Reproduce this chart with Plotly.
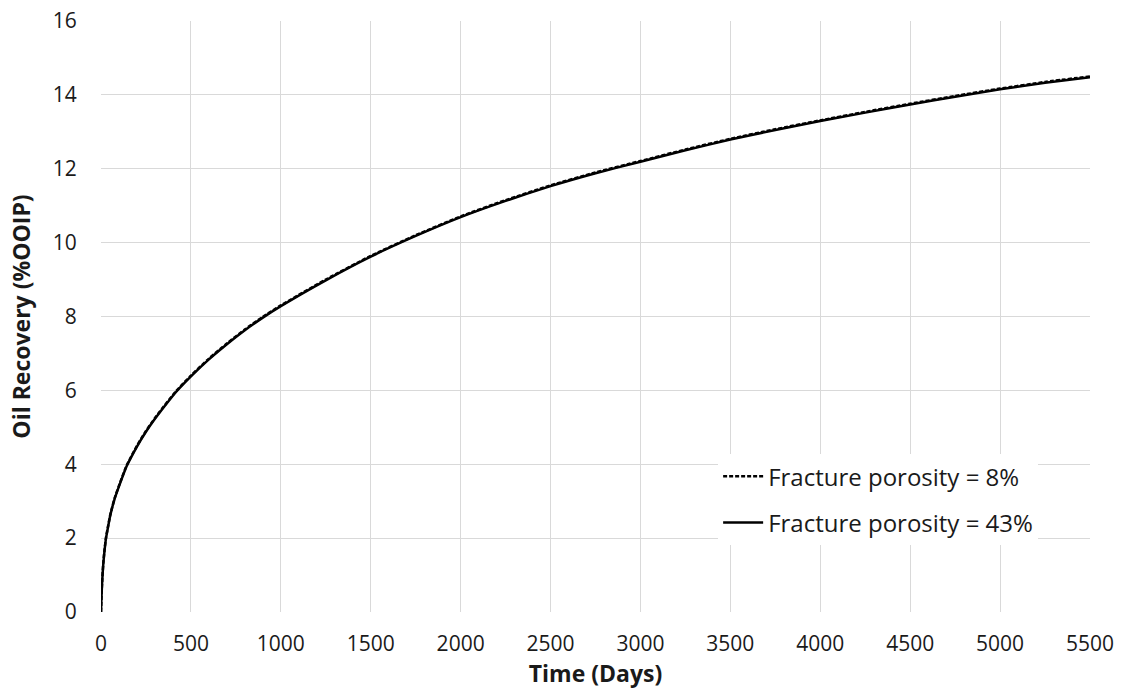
import plotly.graph_objects as go

days = [0, 3, 7, 13, 20, 28, 40, 50, 75, 100, 143, 200, 250, 300, 350, 416, 500, 600, 700,
        800, 900, 1000, 1250, 1500, 1750, 2000, 2250, 2500, 2750, 3000, 3250, 3500, 3750,
        4000, 4250, 4500, 4750, 5000, 5250, 5500]
rec_43 = [0, 0.45, 0.87, 1.32, 1.68, 2.0, 2.32, 2.58, 3.05, 3.4, 3.95, 4.48, 4.88, 5.23, 5.55,
          5.95, 6.38, 6.84, 7.25, 7.63, 7.97, 8.28, 8.98, 9.62, 10.18, 10.69, 11.13, 11.53,
          11.88, 12.19, 12.50, 12.79, 13.05, 13.29, 13.52, 13.74, 13.95, 14.15, 14.33, 14.48]
rec_8 = [0, 0.46, 0.89, 1.34, 1.70, 2.02, 2.34, 2.60, 3.07, 3.42, 3.97, 4.50, 4.90, 5.25, 5.57,
         5.97, 6.40, 6.86, 7.27, 7.65, 7.99, 8.30, 9.00, 9.64, 10.20, 10.71, 11.15, 11.55,
         11.90, 12.21, 12.52, 12.81, 13.07, 13.31, 13.54, 13.76, 13.97, 14.17, 14.35, 14.50]

x_ticks = list(range(0, 5501, 500))
y_ticks = list(range(0, 17, 2))

fig = go.Figure()
fig.add_trace(go.Scatter(x=days, y=rec_43, mode="lines", name="Fracture porosity = 43%",
                         legendgroup="b", legendrank=2,
                         line=dict(color="black", width=2.5, shape="spline", smoothing=0.5)))
fig.add_trace(go.Scatter(x=days, y=rec_8, mode="lines", name="Fracture porosity = 8%",
                         legendgroup="a", legendrank=1,
                         line=dict(color="black", width=2.5, dash="4px,2px", shape="spline",
                                   smoothing=0.5)))

font_family = "Open Sans, Liberation Sans, sans-serif"
fig.update_layout(
    width=1122, height=695,
    margin=dict(l=101, r=32, t=21, b=83),
    paper_bgcolor="white", plot_bgcolor="white",
    font=dict(family=font_family, size=21, color="#1a1a1a"),
    showlegend=True,
    legend=dict(x=0.624, y=0.267, xanchor="left", yanchor="top",
                bgcolor="white", font=dict(size=24), tracegroupgap=12,
                traceorder="grouped", itemwidth=40),
    xaxis=dict(range=[0, 5500], tickvals=x_ticks, showgrid=True, gridcolor="#d9d9d9",
               gridwidth=1, zeroline=False, showline=False, ticks="outside", ticklen=13,
               tickcolor="rgba(0,0,0,0)", automargin=False,
               title=dict(text="<b>Time (Days)</b>", font=dict(size=23), standoff=2)),
    yaxis=dict(range=[0, 16], tickvals=y_ticks, showgrid=True, gridcolor="#d9d9d9",
               gridwidth=1, zeroline=False, showline=False, ticks="outside", ticklen=19,
               tickcolor="rgba(0,0,0,0)", automargin=False,
               title=dict(text="<b>Oil Recovery (%OOIP)</b>", font=dict(size=23), standoff=15)),
)
fig.write_html("out.html")
